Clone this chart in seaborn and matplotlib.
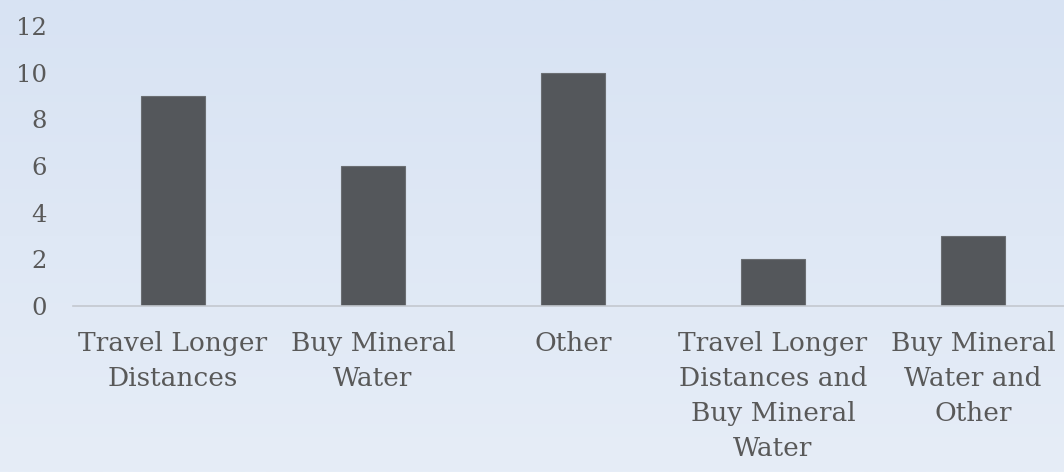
import numpy as np
import pandas as pd
import matplotlib
matplotlib.use("Agg")
import matplotlib.pyplot as plt
import seaborn as sns
from matplotlib.colors import LinearSegmentedColormap

categories = [
    "Travel Longer\nDistances",
    "Buy Mineral\nWater",
    "Other",
    "Travel Longer\nDistances and\nBuy Mineral\nWater",
    "Buy Mineral\nWater and\nOther",
]
values = [9, 6, 10, 2, 3]
yticks = [0, 2, 4, 6, 8, 10, 12]

sns.set_theme(style="white")
plt.rcParams["font.family"] = ["DejaVu Serif"]

W, H = 1064, 472
fig = plt.figure(figsize=(W / 100, H / 100), dpi=100)

# background gradient
bg = fig.add_axes([0, 0, 1, 1], zorder=0)
grad = np.linspace(0, 1, 256).reshape(-1, 1)
cmap = LinearSegmentedColormap.from_list("bg", ["#d8e3f3", "#e6edf7"])
bg.imshow(grad, aspect="auto", cmap=cmap, extent=[0, 1, 0, 1], origin="upper")
bg.set_axis_off()

left = 73 / W
right = 1073 / W
bottom = 1 - 306 / H
top = 1 - 26 / H
ax = fig.add_axes([left, bottom, right - left, top - bottom], zorder=1)
ax.patch.set_alpha(0)

df = pd.DataFrame({"cat": categories, "val": values})
sns.barplot(data=df, x="cat", y="val", ax=ax, color="#54575b", width=0.32,
            saturation=1, edgecolor="#6b6e72", linewidth=0.8)

ax.set_ylim(0, 12)
ax.set_yticks(yticks)
ax.set_xlabel("")
ax.set_ylabel("")
for s in ["top", "right", "left"]:
    ax.spines[s].set_visible(False)
ax.spines["bottom"].set_color("#c3c8cf")
ax.spines["bottom"].set_linewidth(1.2)
ax.tick_params(axis="both", length=0, colors="#595959")
ax.tick_params(axis="y", pad=19, labelsize=17.5)
ax.tick_params(axis="x", pad=18, labelsize=19)
for lbl in ax.get_yticklabels():
    lbl.set_color("#595959")
for lbl in ax.get_xticklabels():
    lbl.set_color("#595959")
    lbl.set_linespacing(1.5)
    lbl.set_multialignment("center")
ax.set_xlim(-0.5, 4.5)

fig.savefig("out.png", dpi=100)
